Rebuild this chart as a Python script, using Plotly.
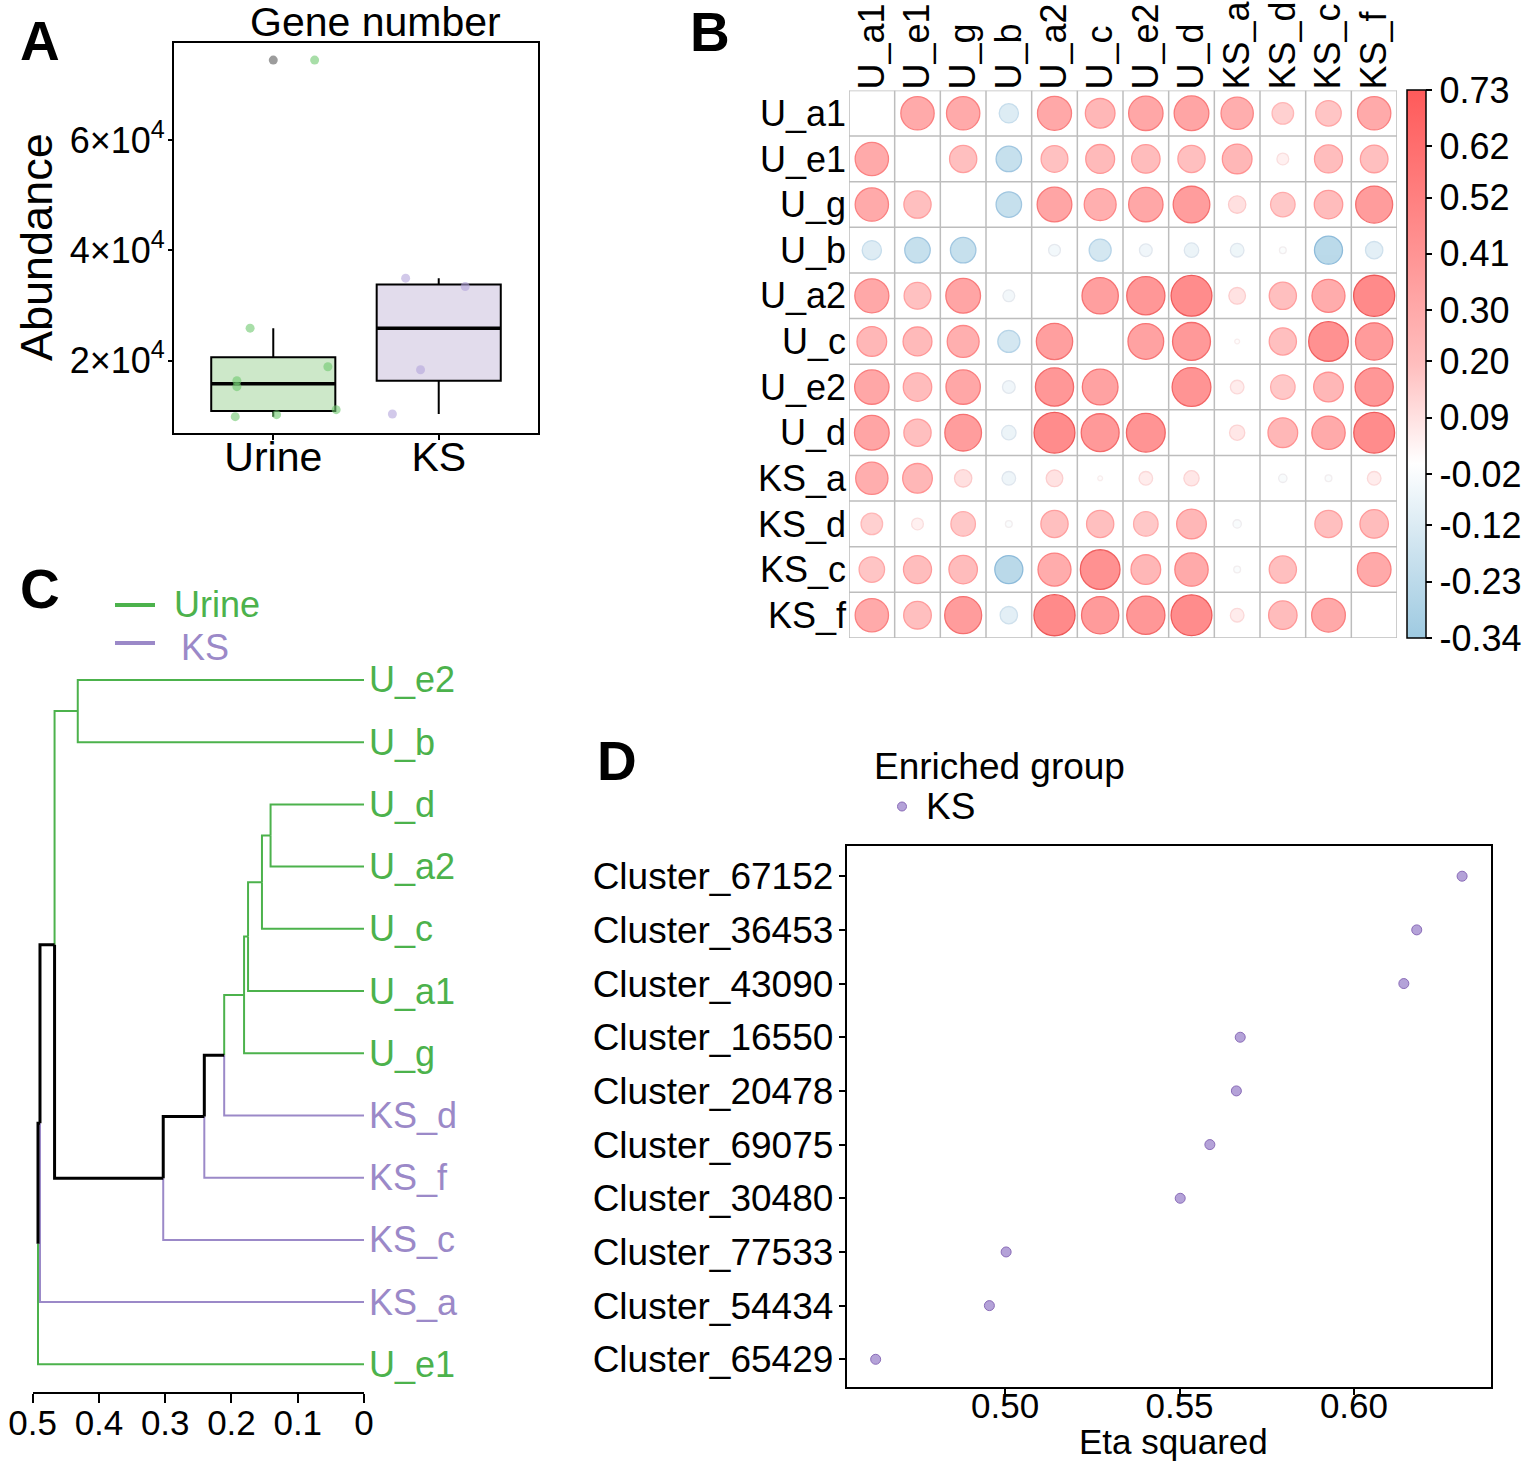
import numpy as np
import plotly.graph_objects as go

W, H = 1524, 1463
FONT = "Liberation Sans, Arial, Helvetica, sans-serif"

# ---------------- Panel A data ----------------
groups_a = ["Urine", "KS"]
urine_abund = [74500, 25900, 18900, 16380, 15300, 9860, 10230, 11130]
urine_jitter = [0.25, -0.14, 0.33, -0.22, -0.22, -0.23, 0.02, 0.38]
ks_abund = [34970, 33450, 18370, 10350]
ks_jitter = [-0.20, 0.16, -0.11, -0.28]
a_yticks = [20000, 40000, 60000]
a_yticktext = ["2×10<sup>4</sup>", "4×10<sup>4</sup>", "6×10<sup>4</sup>"]

# ---------------- Panel B data ----------------
labels_b = ["U_a1", "U_e1", "U_g", "U_b", "U_a2", "U_c", "U_e2", "U_d",
            "KS_a", "KS_d", "KS_c", "KS_f"]
corr_b = [
    [None, 0.48, 0.48, -0.16, 0.50, 0.38, 0.51, 0.52, 0.45, 0.20, 0.28, 0.48],
    [0.48, None, 0.32, -0.28, 0.31, 0.36, 0.35, 0.32, 0.38, 0.06, 0.34, 0.33],
    [0.48, 0.32, None, -0.28, 0.52, 0.44, 0.51, 0.58, 0.13, 0.26, 0.35, 0.59],
    [-0.16, -0.28, -0.28, None, -0.06, -0.21, -0.07, -0.09, -0.08, -0.02, -0.34, -0.13],
    [0.50, 0.31, 0.52, -0.06, None, 0.57, 0.63, 0.72, 0.12, 0.32, 0.47, 0.73],
    [0.38, 0.36, 0.44, -0.21, 0.57, None, 0.55, 0.62, 0.01, 0.32, 0.68, 0.60],
    [0.51, 0.35, 0.51, -0.07, 0.63, 0.55, None, 0.65, 0.08, 0.26, 0.38, 0.63],
    [0.52, 0.32, 0.58, -0.09, 0.72, 0.62, 0.65, None, 0.10, 0.38, 0.48, 0.72],
    [0.45, 0.38, 0.13, -0.08, 0.12, 0.01, 0.08, 0.10, None, -0.03, -0.02, 0.08],
    [0.20, 0.06, 0.26, -0.02, 0.32, 0.32, 0.26, 0.38, -0.03, None, 0.32, 0.35],
    [0.28, 0.34, 0.35, -0.34, 0.47, 0.68, 0.38, 0.48, -0.02, 0.32, None, 0.49],
    [0.48, 0.33, 0.59, -0.13, 0.73, 0.60, 0.63, 0.72, 0.08, 0.35, 0.49, None],
]
cbar_ticks = [0.73, 0.62, 0.52, 0.41, 0.30, 0.20, 0.09, -0.02, -0.12, -0.23, -0.34]

# ---------------- Panel C data ----------------
leaf_order = ["U_e2", "U_b", "U_d", "U_a2", "U_c", "U_a1", "U_g",
              "KS_d", "KS_f", "KS_c", "KS_a", "U_e1"]
merge_a = ["U_d", "n1", "n2", "n3", "n4", "n5", "n6", "U_e2", "n8", "n9", "n10"]
merge_b = ["U_a2", "U_c", "U_a1", "U_g", "KS_d", "KS_f", "KS_c", "U_b", "n7", "KS_a", "U_e1"]
merge_h = [0.141, 0.154, 0.175, 0.181, 0.211, 0.241, 0.303, 0.432, 0.467, 0.489, 0.492]
dend_ticks = [0.5, 0.4, 0.3, 0.2, 0.1, 0]
dend_ticktext = ["0.5", "0.4", "0.3", "0.2", "0.1", "0"]

# ---------------- Panel D data ----------------
clusters_d = ["Cluster_67152", "Cluster_36453", "Cluster_43090", "Cluster_16550",
              "Cluster_20478", "Cluster_69075", "Cluster_30480", "Cluster_77533",
              "Cluster_54434", "Cluster_65429"]
eta_sq = [0.631, 0.618, 0.6143, 0.5674, 0.5663, 0.5587, 0.5502, 0.5003, 0.4955, 0.4629]
d_xticks = [0.50, 0.55, 0.60]

GREEN = "#4CB24C"
PURPLE = "#9B89C8"


def fx(px):
    return px / W


def fy(py):
    return 1 - py / H


fig = go.Figure()

# ================= Panel A =================
box_fill = ["#CDE8C9", "#E2DCEC"]
pt_col = ["rgba(110,200,110,0.6)", "rgba(180,165,220,0.6)"]
for i, (vals, jit) in enumerate([(urine_abund, urine_jitter), (ks_abund, ks_jitter)]):
    arr = np.array(vals, dtype=float)
    q1, med, q3 = np.percentile(arr, [25, 50, 75])
    iqr = q3 - q1
    lw = arr[arr >= q1 - 1.5 * iqr].min()
    uw = arr[arr <= q3 + 1.5 * iqr].max()
    out = arr[(arr < lw) | (arr > uw)]
    fig.add_trace(go.Box(x=[i], q1=[q1], median=[med], q3=[q3],
                         lowerfence=[lw], upperfence=[uw], width=0.75,
                         whiskerwidth=0, fillcolor=box_fill[i],
                         line=dict(color="black", width=2), boxpoints=False,
                         xaxis="x", yaxis="y", hoverinfo="skip"))
    fig.add_trace(go.Scatter(x=[i - 0.375, i + 0.375], y=[med, med], mode="lines",
                             line=dict(color="black", width=3.5),
                             xaxis="x", yaxis="y", hoverinfo="skip"))
    if len(out):
        fig.add_trace(go.Scatter(x=[i] * len(out), y=out, mode="markers",
                                 marker=dict(color="rgba(90,90,90,0.6)", size=9),
                                 xaxis="x", yaxis="y"))
    fig.add_trace(go.Scatter(x=i + np.array(jit), y=arr, mode="markers",
                             marker=dict(color=pt_col[i], size=9),
                             xaxis="x", yaxis="y"))

# ================= Panel B =================
n = len(labels_b)
cell_px = 548 / n
rmax = max(abs(v) for row in corr_b for v in row if v is not None)
bx, by, br, bs = [], [], [], []
for i in range(n):
    for j in range(n):
        v = corr_b[i][j]
        if v is None:
            continue
        bx.append(j)
        by.append(i)
        br.append(v)
        bs.append(0.9 * cell_px * np.sqrt(abs(v) / rmax))

fill_scale = [[0, "#9ECAE1"], [0.16, "#CDE3EF"], [0.318, "#FFFFFF"],
              [0.5, "#FFBEBE"], [0.7, "#FF9494"], [1, "#FF5A5A"]]
line_scale = [[0, "#5E9FCB"], [0.16, "#AACDE4"], [0.318, "#F6EAEA"],
              [0.5, "#FF9A9A"], [0.7, "#FF5C5C"], [1, "#E81414"]]
cmin, cmax = min(cbar_ticks), max(cbar_ticks)

fig.add_trace(go.Scatter(
    x=bx, y=by, mode="markers", xaxis="x2", yaxis="y2", hoverinfo="skip",
    marker=dict(size=bs, color=br, colorscale=fill_scale, cmin=cmin, cmax=cmax,
                line=dict(color=br, colorscale=line_scale, cmin=cmin, cmax=cmax, width=1.3),
                showscale=True,
                colorbar=dict(x=fx(1407), xanchor="left", y=fy(638), yanchor="bottom",
                              len=548, lenmode="pixels", thickness=19,
                              thicknessmode="pixels", xpad=0, ypad=0,
                              outlinecolor="black", outlinewidth=1.5,
                              tickvals=cbar_ticks,
                              ticktext=[f"{t:.2f}" for t in cbar_ticks],
                              ticks="outside", ticklen=6, tickwidth=1.5,
                              tickcolor="black",
                              tickfont=dict(size=36, color="black", family=FONT)))))

shapes = []
for k in range(n + 1):
    shapes.append(dict(type="line", xref="x2", yref="y2", x0=k - 0.5, x1=k - 0.5,
                       y0=-0.5, y1=n - 0.5, line=dict(color="#BDBDBD", width=1.5),
                       layer="below"))
    shapes.append(dict(type="line", xref="x2", yref="y2", y0=k - 0.5, y1=k - 0.5,
                       x0=-0.5, x1=n - 0.5, line=dict(color="#BDBDBD", width=1.5),
                       layer="below"))

# ================= Panel C =================
def grp(name):
    return "Urine" if name.startswith("U_") else "KS"


node_y = {name: idx for idx, name in enumerate(leaf_order)}
node_h = {name: 0.0 for name in leaf_order}
node_g = {name: {grp(name)} for name in leaf_order}
segs = {GREEN: ([], []), PURPLE: ([], []), "black": ([], [])}


def color_of(gs):
    if gs == {"Urine"}:
        return GREEN
    if gs == {"KS"}:
        return PURPLE
    return "black"


for k, (a, b, h) in enumerate(zip(merge_a, merge_b, merge_h)):
    nm = f"n{k + 1}"
    yp = (node_y[a] + node_y[b]) / 2
    node_y[nm] = yp
    node_h[nm] = h
    node_g[nm] = node_g[a] | node_g[b]
    for c in (a, b):
        col = color_of(node_g[c])
        xs, ys = segs[col]
        xs += [h, h, node_h[c], None]
        ys += [yp, node_y[c], node_y[c], None]

for col in (GREEN, PURPLE, "black"):
    xs, ys = segs[col]
    fig.add_trace(go.Scatter(x=xs, y=ys, mode="lines", xaxis="x3", yaxis="y3",
                             line=dict(color=col, width=3 if col == "black" else 2),
                             hoverinfo="skip"))


def ann(x, y, text, size, color="black", xanchor="center", yanchor="middle", **kw):
    d = dict(x=x, y=y, text=text, showarrow=False, xanchor=xanchor, yanchor=yanchor,
             font=dict(size=size, color=color, family=FONT))
    d.setdefault("xref", "paper")
    d.setdefault("yref", "paper")
    d.update(kw)
    return d


annotations = []
for idx, name in enumerate(leaf_order):
    annotations.append(ann(0, idx, name, 36,
                           GREEN if grp(name) == "Urine" else PURPLE,
                           xanchor="left", xref="x3", yref="y3", xshift=3))

# legend C
shapes.append(dict(type="line", xref="paper", yref="paper", x0=fx(115), x1=fx(155),
                   y0=fy(605), y1=fy(605), line=dict(color=GREEN, width=4)))
shapes.append(dict(type="line", xref="paper", yref="paper", x0=fx(115), x1=fx(155),
                   y0=fy(643), y1=fy(643), line=dict(color=PURPLE, width=4)))
annotations.append(ann(fx(172), fy(604), "Urine", 36, GREEN, xanchor="left"))
annotations.append(ann(fx(179), fy(647), "KS", 36, PURPLE, xanchor="left"))

# ================= Panel D =================
fig.add_trace(go.Scatter(x=eta_sq, y=list(range(len(clusters_d))), mode="markers",
                         xaxis="x4", yaxis="y4", hoverinfo="skip",
                         marker=dict(size=10, color="#B4A2D8",
                                     line=dict(color="#8A6CB8", width=1))))
shapes.append(dict(type="circle", xref="paper", yref="paper",
                   x0=fx(897.5), x1=fx(906.5), y0=fy(811), y1=fy(802),
                   fillcolor="#B4A2D8", line=dict(color="#8A6CB8", width=1)))
annotations.append(ann(fx(872), fy(766), "Enriched group", 37, xanchor="left"))
annotations.append(ann(fx(924), fy(806), "KS", 37, xanchor="left"))

# titles / panel labels
annotations += [
    ann(fx(375), fy(22), "Gene number", 41),
    ann(fx(37), fy(247), "Abundance", 45, textangle=-90),
    ann(fx(1173), fy(1441), "Eta squared", 35, borderpad=0),
]
for lab, px, py in [("A", 40, 41), ("B", 710, 32), ("C", 40, 589), ("D", 617, 761)]:
    annotations.append(ann(fx(px), fy(py), f"<b>{lab}</b>", 55))

axis_common = dict(showgrid=False, zeroline=False, color="black", automargin=False)
fig.update_layout(
    template="none",
    width=W, height=H, margin=dict(l=0, r=0, t=0, b=0, pad=0, autoexpand=False),
    paper_bgcolor="white", plot_bgcolor="white", showlegend=False,
    font=dict(family=FONT, color="black"),
    xaxis=dict(domain=[fx(174), fx(538)], range=[-0.6, 1.6], tickvals=[0, 1],
               ticktext=groups_a, showline=True, mirror=True, linecolor="black",
               linewidth=2, ticks="outside", ticklen=5, tickwidth=1.5, tickcolor="black",
               tickfont=dict(size=41), ticklabelstandoff=-18, anchor="y", **axis_common),
    yaxis=dict(domain=[fy(433), fy(43)], range=[6900, 77600], tickvals=a_yticks,
               ticktext=a_yticktext, showline=True, mirror=True, linecolor="black",
               linewidth=2, ticks="outside", ticklen=4, tickwidth=1.5, tickcolor="black",
               tickfont=dict(size=36), ticklabelstandoff=-4, anchor="x", **axis_common),
    xaxis2=dict(domain=[fx(849), fx(1397)], range=[-0.5, n - 0.5], side="top",
                tickvals=list(range(n)), ticktext=labels_b, tickangle=-90,
                tickfont=dict(size=36), ticks="", showline=False, anchor="y2",
                **axis_common),
    yaxis2=dict(domain=[fy(638), fy(90.5)], range=[n - 0.5, -0.5],
                tickvals=list(range(n)), ticktext=labels_b, tickfont=dict(size=36),
                ticks="", showline=False, ticklabelstandoff=2, anchor="x2",
                **axis_common),
    xaxis3=dict(domain=[fx(32.7), fx(364)], range=[0.5, 0], tickvals=dend_ticks,
                ticktext=dend_ticktext, showline=True, linecolor="black", linewidth=2,
                ticks="outside", ticklen=9, tickwidth=2, tickcolor="black",
                tickfont=dict(size=35), ticklabelstandoff=-10, anchor="y3",
                **axis_common),
    yaxis3=dict(domain=[fy(1391.7), fy(652.6)], range=[11.44, -0.44], visible=False,
                anchor="x3", **axis_common),
    xaxis4=dict(domain=[fx(846.7), fx(1490.7)], range=[0.4546, 0.6392],
                tickvals=d_xticks, ticktext=[f"{t:.2f}" for t in d_xticks],
                showline=True, mirror=True, linecolor="black", linewidth=2,
                ticks="outside", ticklen=6, tickwidth=1.5, tickcolor="black",
                tickfont=dict(size=35), ticklabelstandoff=-19, anchor="y4",
                **axis_common),
    yaxis4=dict(domain=[fy(1387), fy(845.5)], range=[9.516, -0.572],
                tickvals=list(range(len(clusters_d))), ticktext=clusters_d,
                showline=True, mirror=True, linecolor="black", linewidth=2,
                ticks="outside", ticklen=6, tickwidth=1.5, tickcolor="black",
                tickfont=dict(size=37), ticklabelstandoff=-2, anchor="x4",
                **axis_common),
    shapes=shapes, annotations=annotations,
)

fig.write_html("out.html")
